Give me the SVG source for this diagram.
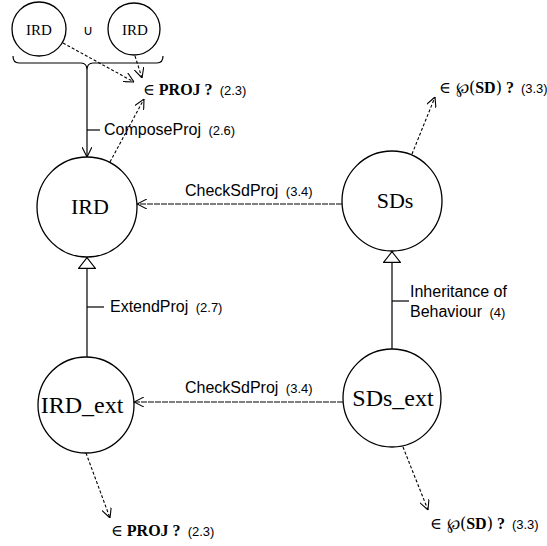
<svg xmlns="http://www.w3.org/2000/svg" width="547" height="546" viewBox="0 0 547 546">
<style>
.node{fill:#fff;stroke:#000;stroke-width:1.3}
.nl{font-family:"Liberation Serif","DejaVu Serif",serif;fill:#000;text-anchor:middle}
.lab{font-family:"Liberation Sans",Arial,sans-serif;font-size:16px;fill:#000}
.num{font-family:"Liberation Sans",Arial,sans-serif;font-size:13px;font-weight:normal;fill:#000}
.set{font-family:"Liberation Serif","DejaVu Serif",serif;font-size:16px;font-weight:bold;fill:#000}
.sym{font-family:"DejaVu Serif",serif;font-weight:normal}
.solid{fill:none;stroke:#000;stroke-width:1.2}
.dash{fill:none;stroke:#000;stroke-width:1.1;stroke-dasharray:3,2}
.fine{fill:none;stroke:#000;stroke-width:1.1;stroke-dasharray:6,1}
</style>
<defs>
<marker id="open" viewBox="0 0 10 10" refX="10" refY="5" markerWidth="10" markerHeight="10" markerUnits="userSpaceOnUse" orient="auto">
<path d="M0,0 L10,5 L0,10" fill="none" stroke="#000" stroke-width="1.1"/>
</marker>
<marker id="tri" viewBox="0 0 12 18" refX="12" refY="9" markerWidth="12" markerHeight="18" markerUnits="userSpaceOnUse" orient="auto">
<path d="M0.6,0.6 L11.4,9 L0.6,17.4 Z" fill="#fff" stroke="#000" stroke-width="1.1"/>
</marker>
</defs>

<g id="connectors">
<path class="solid" d="M13,56 Q13,63 19,63 H81 Q87,63 87,70 Q87,63 93,63 H157 Q163,63 163,56"/>
<line class="solid" x1="87" y1="70" x2="87" y2="157" marker-end="url(#open)"/>
<line class="solid" x1="87" y1="130" x2="100" y2="130"/>
<line class="dash" x1="63" y1="43" x2="134" y2="82" marker-end="url(#open)"/>
<line class="dash" x1="135" y1="56" x2="142" y2="78" marker-end="url(#open)"/>
<line class="dash" x1="110" y1="162" x2="144" y2="99" marker-end="url(#open)"/>
<line class="dash" x1="412" y1="154" x2="435" y2="97" marker-end="url(#open)"/>
<line class="fine" x1="342" y1="204" x2="137" y2="204" marker-end="url(#open)"/>
<line class="solid" x1="87" y1="357" x2="87" y2="257" marker-end="url(#tri)"/>
<line class="solid" x1="87" y1="307" x2="104" y2="307"/>
<line class="solid" x1="392" y1="349" x2="392" y2="251" marker-end="url(#tri)"/>
<line class="solid" x1="392" y1="301" x2="409" y2="301"/>
<line class="fine" x1="343" y1="402" x2="134" y2="402" marker-end="url(#open)"/>
<line class="dash" x1="86" y1="453" x2="110" y2="518" marker-end="url(#open)"/>
<line class="dash" x1="403" y1="447" x2="428" y2="510" marker-end="url(#open)"/>
</g>

<g id="ird-left">
<circle class="node" cx="39" cy="29" r="27"/>
<text class="nl" x="39" y="35" font-size="15">IRD</text>
</g>
<text x="88" y="35" font-family="'DejaVu Sans',sans-serif" font-size="14" text-anchor="middle">∪</text>
<g id="ird-right">
<circle class="node" cx="134" cy="29" r="26"/>
<text class="nl" x="135" y="35" font-size="15">IRD</text>
</g>

<g id="ird">
<circle class="node" cx="87" cy="207" r="50"/>
<text class="nl" x="90" y="214" font-size="22">IRD</text>
</g>
<g id="sds">
<circle class="node" cx="392" cy="201" r="50"/>
<text class="nl" x="395" y="208" font-size="22">SDs</text>
</g>
<g id="ird-ext">
<circle class="node" cx="86" cy="405" r="48"/>
<text class="nl" x="82" y="413" font-size="24">IRD_ext</text>
</g>
<g id="sds-ext">
<circle class="node" cx="392" cy="398" r="49"/>
<text class="nl" x="393" y="406" font-size="24">SDs_ext</text>
</g>

<g id="labels">
<text class="lab" x="104" y="135">ComposeProj <tspan class="num" dx="3">(2.6)</tspan></text>
<text class="set" x="143" y="95"><tspan class="sym">∈</tspan> PROJ ? <tspan class="num" dx="3">(2.3)</tspan></text>
<text class="set" x="439" y="93"><tspan class="sym">∈ ℘(</tspan>SD<tspan class="sym">)</tspan> ? <tspan class="num" dx="3">(3.3)</tspan></text>
<text class="lab" x="185" y="196">CheckSdProj <tspan class="num" dx="3">(3.4)</tspan></text>
<text class="lab" x="110" y="312">ExtendProj <tspan class="num" dx="3">(2.7)</tspan></text>
<text class="lab" x="410" y="297">Inheritance of</text>
<text class="lab" x="410" y="317">Behaviour <tspan class="num" dx="3">(4)</tspan></text>
<text class="lab" x="185" y="393">CheckSdProj <tspan class="num" dx="3">(3.4)</tspan></text>
<text class="set" x="111" y="536"><tspan class="sym">∈</tspan> PROJ ? <tspan class="num" dx="3">(2.3)</tspan></text>
<text class="set" x="430" y="529"><tspan class="sym">∈ ℘(</tspan>SD<tspan class="sym">)</tspan> ? <tspan class="num" dx="3">(3.3)</tspan></text>
</g>
</svg>
